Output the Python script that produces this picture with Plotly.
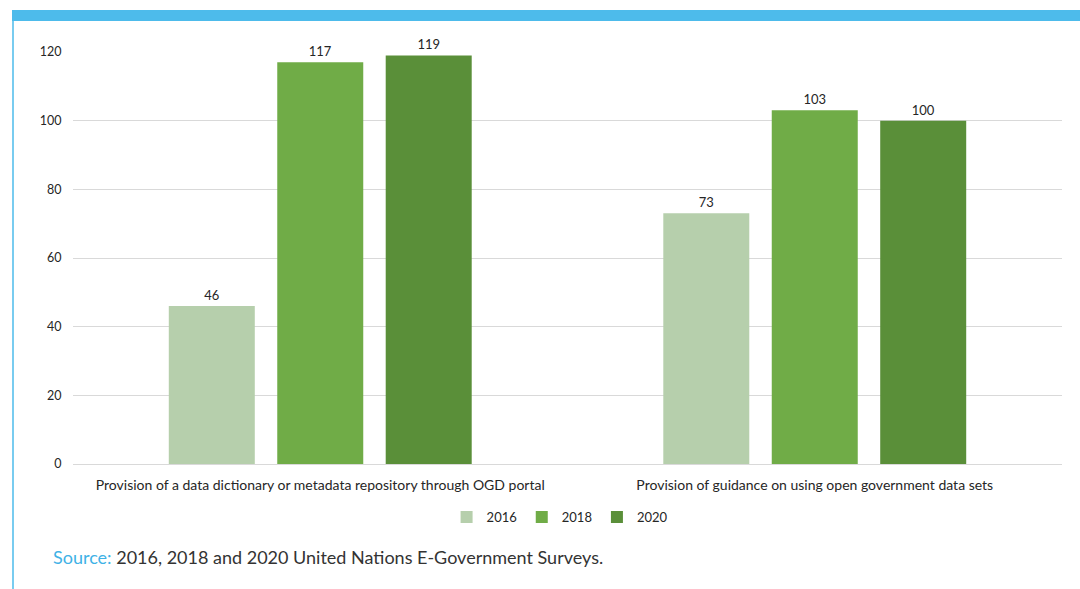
import plotly.graph_objects as go

categories = ["Provision of a data dictionary or metadata repository through OGD portal",
              "Provision of guidance on using open government data sets"]
years = ["2016", "2018", "2020"]
values_2016 = [46, 73]
values_2018 = [117, 103]
values_2020 = [119, 100]
colors = ["#b6cfac", "#70ac47", "#5a8f39"]

series = [values_2016, values_2018, values_2020]

fig = go.Figure()
for name, vals, col in zip(years, series, colors):
    fig.add_trace(go.Bar(
        x=categories, y=vals, name=name,
        marker=dict(color=col, line=dict(width=0)),
        text=[str(v) for v in vals], textposition="outside",
        textfont=dict(size=13, color="#262626"),
        cliponaxis=False,
    ))

FONT = "Lato, Calibri, sans-serif"
fig.update_layout(
    width=1080, height=589,
    margin=dict(l=73, r=18, t=52, b=125),
    paper_bgcolor="white", plot_bgcolor="white",
    barmode="group", bargap=0.342, bargroupgap=0.207,
    font=dict(family=FONT, size=12, color="#262626"),
    showlegend=True,
    legend=dict(orientation="h", x=0.492, xanchor="center", y=-0.129, yanchor="middle",
                font=dict(size=13, color="#262626"), itemwidth=30, traceorder="normal"),
    xaxis=dict(showgrid=False, showline=True, linecolor="#d9d9d9", linewidth=1,
               ticks="outside", ticklen=8, tickcolor="rgba(0,0,0,0)",
               tickfont=dict(size=14, color="#262626")),
    yaxis=dict(range=[0, 120], dtick=20, showgrid=True, gridcolor="#d9d9d9", gridwidth=1,
               zeroline=False, showline=False, ticks="outside", ticklen=8,
               tickcolor="rgba(0,0,0,0)", tickfont=dict(size=12.5, color="#262626")),
    shapes=[
        dict(type="rect", xref="paper", yref="paper",
             x0=(12-73)/989, x1=(1080-73)/989, y0=(464-10)/412, y1=(464-21)/412,
             fillcolor="#4dbbeb", line=dict(width=0), layer="above"),
        dict(type="line", xref="paper", yref="paper",
             x0=(13-73)/989, x1=(13-73)/989, y0=(464-21)/412, y1=(464-589)/412,
             line=dict(color="#4dbbeb", width=1.5)),
    ],
    annotations=[
        dict(xref="paper", yref="paper", x=(51-73)/989, y=(464-557)/412,
             xanchor="left", yanchor="middle", showarrow=False,
             text="<span style='color:#3fb2e6'>Source:</span> 2016, 2018 and 2020 United Nations E-Government Surveys.",
             font=dict(size=18, color="#333333", family=FONT)),
    ],
)

fig.write_html("out.html", config={"displayModeBar": False},
               post_script="document.body.style.margin='0';document.body.style.overflow='hidden';")
